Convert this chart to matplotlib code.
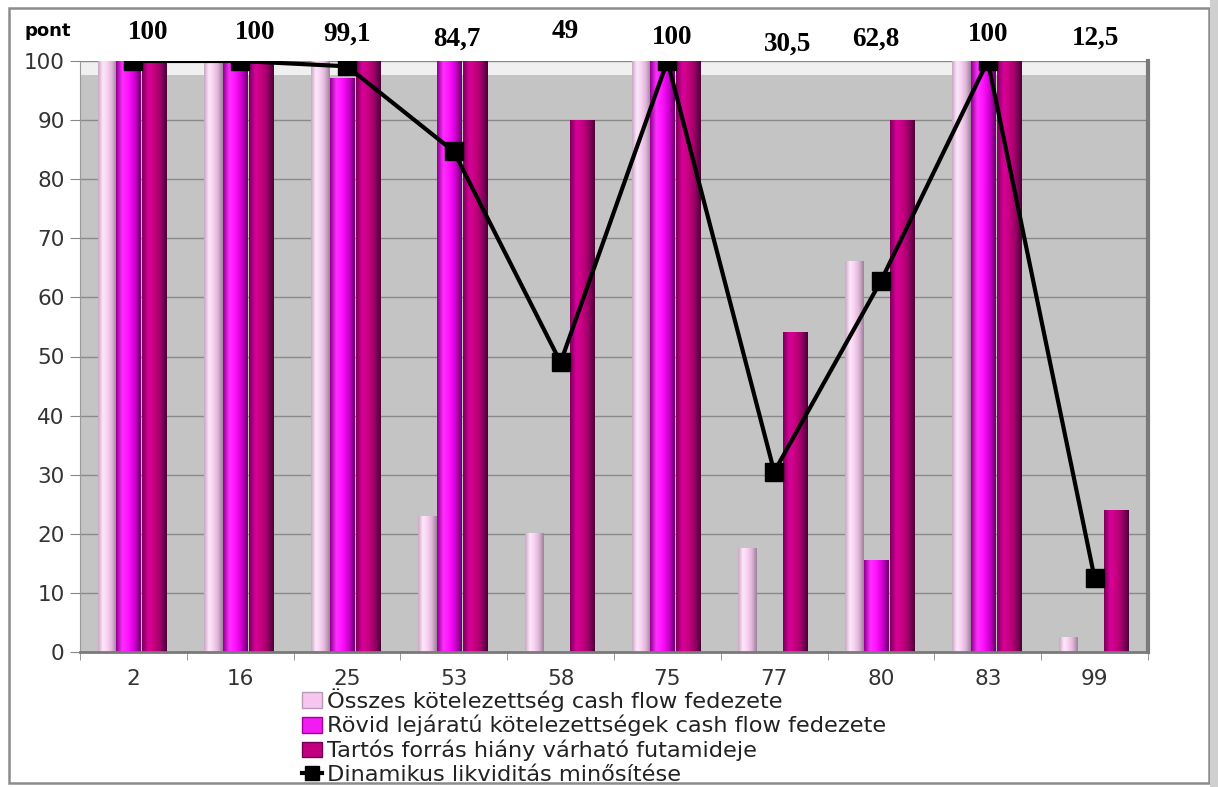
import matplotlib.pyplot as plt
from matplotlib.colors import LinearSegmentedColormap
from matplotlib.lines import Line2D
from matplotlib.patches import Patch, Rectangle
import numpy as np

# bank codes on the category axis
codes = ["2", "16", "25", "53", "58", "75", "77", "80", "83", "99"]

osszes = [100, 100, 100, 23, 20, 100, 17.5, 66, 100, 2.5]
rovid = [100, 100, 97, 100, 0, 100, 0, 15.5, 100, 0]
tartos = [100, 100, 100, 100, 90, 100, 54, 90, 100, 24]
minosites = [100, 100, 99.1, 84.7, 49, 100, 30.5, 62.8, 100, 12.5]

labels = [
    "Összes kötelezettség cash flow fedezete",
    "Rövid lejáratú kötelezettségek cash flow fedezete",
    "Tartós forrás hiány várható futamideje",
    "Dinamikus likviditás minősítése",
]

C_LIGHT = "#f6c6f0"
C_MAG = "#f21cf2"
C_DARK = "#c2007f"

# cylinder-like shading across each bar, left to right
SHADES = {
    C_LIGHT: ["#c9a4c4", "#fde8fa", "#f8d0f2", "#dcb4d6", "#9c8098"],
    C_MAG: ["#8c008c", "#ff30ff", "#ff10ff", "#d000d0", "#6a006a"],
    C_DARK: ["#7a0058", "#d8009a", "#c6007f", "#9a0068", "#4a0036"],
}

plt.rcParams["font.family"] = "DejaVu Sans"

fig = plt.figure(figsize=(12.18, 7.87), dpi=100)
ax = fig.add_axes([80 / 1218, 1 - 652 / 787, (1148 - 80) / 1218, (652 - 61) / 787])

x = np.arange(len(codes))
ax.set_facecolor("#c4c4c4")
ax.axhspan(97.6, 100, color="#f0f0f0", zorder=0.5, lw=0)


def shaded_bars(pos, values, width, color):
    bars = ax.bar(pos, values, width=width, color="none", edgecolor="none", zorder=2)
    cmap = LinearSegmentedColormap.from_list("shade", SHADES[color])
    grad = np.linspace(0, 1, 64)[np.newaxis, :]
    for b in bars:
        h = b.get_height()
        if h <= 0:
            continue
        x0 = b.get_x()
        ax.imshow(grad, cmap=cmap, aspect="auto", interpolation="bicubic",
                  extent=[x0, x0 + b.get_width(), 0, h], zorder=2)


shaded_bars(x - 0.25, osszes, 0.17, C_LIGHT)
shaded_bars(x - 0.045, rovid, 0.23, C_MAG)
shaded_bars(x + 0.2, tartos, 0.23, C_DARK)

ax.plot(x, minosites, color="black", linewidth=3, marker="s", markersize=13, zorder=4)

# value labels above the plot, nudged a little as in the layout
nudge_x = [0.14, 0.14, 0, 0.03, 0.04, 0.04, 0.13, -0.05, 0, 0.01]
nudge_y = [104.9, 104.9, 104.6, 103.7, 105.0, 103.9, 102.9, 103.7, 104.4, 103.9]
for xi, v, dx, ty in zip(x, minosites, nudge_x, nudge_y):
    txt = f"{v:g}".replace(".", ",")
    ax.text(xi + dx, ty, txt, ha="center", va="center", fontsize=19.5, fontweight="bold",
            family="Liberation Serif", clip_on=False)

ax.text(-0.8, 105.0, "pont", ha="center", va="center", fontsize=13, fontweight="bold", clip_on=False)

ax.set_xlim(-0.5, 9.5)
ax.set_ylim(0, 100)
ax.set_yticks(range(0, 101, 10))
ax.set_xticks(x)
ax.set_xticklabels(codes)
ax.set_xticks(np.arange(-0.5, 10, 1), minor=True)
ax.tick_params(axis="x", which="major", length=0, pad=12, labelsize=15.5, colors="#333333")
ax.tick_params(axis="x", which="minor", length=6, color="#888888")
ax.tick_params(axis="y", length=7, color="#888888", labelsize=15.5, pad=4, labelcolor="#333333")
ax.grid(axis="y", color="#8a8a8a", linewidth=1.0, zorder=1)
ax.set_axisbelow(True)
ax.spines["top"].set_visible(False)
ax.spines["right"].set_color("#7a7a7a")
ax.spines["right"].set_linewidth(3)
ax.spines["left"].set_color("#999999")
ax.spines["bottom"].set_color("#7a7a7a")
ax.spines["bottom"].set_linewidth(2)

handles = [
    Patch(facecolor=C_LIGHT, edgecolor="#b89ab4"),
    Patch(facecolor=C_MAG, edgecolor="#a000a0"),
    Patch(facecolor=C_DARK, edgecolor="#700050"),
    Line2D([0], [0], color="black", linewidth=3, marker="s", markersize=10),
]
fig.legend(handles, labels, loc="upper left", bbox_to_anchor=(302 / 1218, 1 - 688 / 787),
           frameon=False, fontsize=16.2, handlelength=0.9, handletextpad=0.2,
           labelspacing=0.15, borderpad=0, borderaxespad=0, labelcolor="#222222")

fig.patches.append(Rectangle((9 / 1218, 4 / 787), 1200 / 1218, 775 / 787, transform=fig.transFigure,
                             fill=False, edgecolor="#8c8c8c", linewidth=1.8, zorder=10))
fig.patches.append(Rectangle((1210 / 1218, 0), 8 / 1218, 1, transform=fig.transFigure,
                             facecolor="#cfcfcf", edgecolor="none", zorder=10))

fig.savefig("out.png", dpi=100)
